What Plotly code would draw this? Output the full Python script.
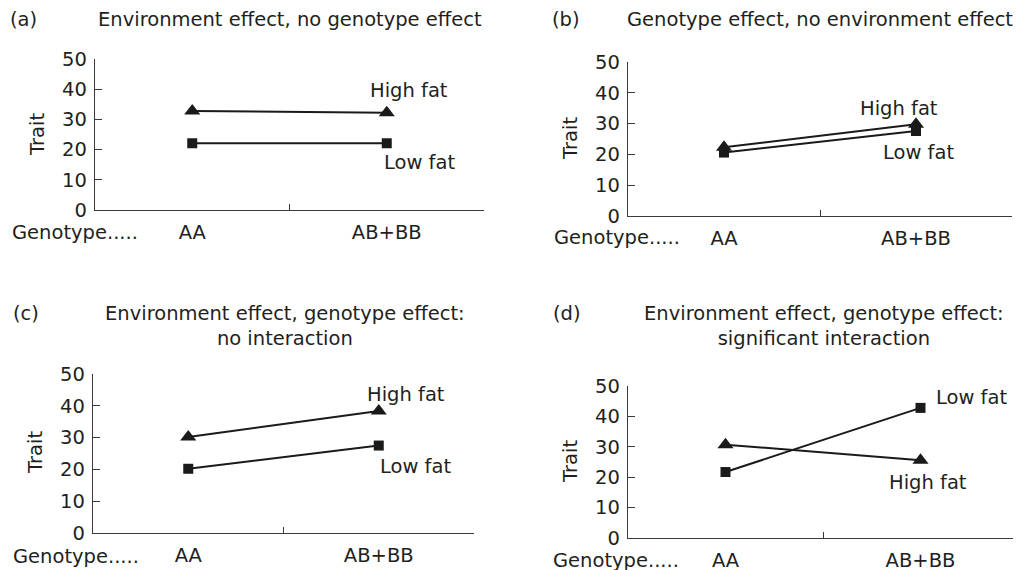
import plotly.graph_objects as go

W, H = 1021, 570
OFF = 8  # page body margin

genotypes = ["AA", "AB+BB"]
a_high = [32.8, 32.2]
a_low = [22.1, 22.1]
b_high = [22.3, 29.8]
b_low = [20.6, 27.6]
c_high = [30.2, 38.4]
c_low = [20.2, 27.5]
d_high = [30.7, 25.6]
d_low = [21.7, 42.8]

y_ticks = [0, 10, 20, 30, 40, 50]

FONT = "DejaVu Sans"
FS = 19.5
TXT = "#231f20"
LINE = "#1a1a1a"
AX = "#3a3a3a"

boxes = {
    "a": (95, 484, 59, 210),
    "b": (628, 1012, 62, 216),
    "c": (93, 474, 374, 533),
    "d": (628, 1018, 386, 538),
}
panel_data = {
    "a": (a_high, a_low),
    "b": (b_high, b_low),
    "c": (c_high, c_low),
    "d": (d_high, d_low),
}


def px(x):
    return (x - OFF) / W


def py(y):
    return 1 - (y - OFF) / H


fig = go.Figure()
layout = {}
for i, key in enumerate(["a", "b", "c", "d"]):
    n = "" if i == 0 else str(i + 1)
    x0, x1, yt, yb = boxes[key]
    hi, lo = panel_data[key]
    xa, ya = "x" + n, "y" + n
    fig.add_trace(go.Scatter(x=genotypes, y=hi, xaxis=xa, yaxis=ya, mode="lines+markers",
                             line=dict(color=LINE, width=2),
                             marker=dict(symbol="triangle-up", size=14, color=LINE),
                             showlegend=False, cliponaxis=False))
    fig.add_trace(go.Scatter(x=genotypes, y=lo, xaxis=xa, yaxis=ya, mode="lines+markers",
                             line=dict(color=LINE, width=2),
                             marker=dict(symbol="square", size=10, color=LINE),
                             showlegend=False, cliponaxis=False))
    layout["xaxis" + n] = dict(
        domain=[px(x0), px(x1)], anchor=ya, type="category", range=[-0.5, 1.5],
        tickson="boundaries", ticks="inside", ticklen=6, tickwidth=1.3, tickcolor=AX,
        showline=True, linecolor=AX, linewidth=1.3, showgrid=False, zeroline=False,
        tickfont=dict(family=FONT, size=FS, color=TXT), ticklabelstandoff=4,
        automargin=False, fixedrange=True,
    )
    layout["yaxis" + n] = dict(
        domain=[py(yb), py(yt)], anchor=xa, range=[0, 50], tickvals=y_ticks,
        ticks="inside", ticklen=7, tickwidth=1.3, tickcolor=AX,
        showline=True, linecolor=AX, linewidth=1.3, showgrid=False, zeroline=False,
        tickfont=dict(family=FONT, size=FS, color=TXT), ticklabelstandoff=3,
        automargin=False, fixedrange=True,
    )

ann = []


def add_text(text, x, y, xanchor="center", angle=0):
    ann.append(dict(text=text, x=px(x), y=py(y), xref="paper", yref="paper",
                    xanchor=xanchor, yanchor="middle", showarrow=False, textangle=angle,
                    font=dict(family=FONT, size=FS, color=TXT)))


add_text("(a)", 8, 20, "left")
add_text("Environment effect, no genotype effect", 290, 20)
add_text("(b)", 550, 20, "left")
add_text("Genotype effect, no environment effect", 820, 20)
add_text("(c)", 11, 313, "left")
add_text("Environment effect, genotype effect:<br>no interaction", 285, 326)
add_text("(d)", 551, 313, "left")
add_text("Environment effect, genotype effect:<br>significant interaction", 824, 326)

add_text("Trait", 37, 135, angle=-90)
add_text("Trait", 570, 139, angle=-90)
add_text("Trait", 35, 453, angle=-90)
add_text("Trait", 570, 462, angle=-90)

add_text("Genotype.....", 10, 232, "left")
add_text("Genotype.....", 552, 237, "left")
add_text("Genotype.....", 11, 556, "left")
add_text("Genotype.....", 551, 560, "left")

add_text("High fat", 368, 90, "left")
add_text("Low fat", 382, 163, "left")
add_text("High fat", 858, 108, "left")
add_text("Low fat", 881, 152, "left")
add_text("High fat", 365, 394, "left")
add_text("Low fat", 378, 466, "left")
add_text("Low fat", 934, 397, "left")
add_text("High fat", 887, 482, "left")

fig.update_layout(
    width=W, height=H, margin=dict(l=0, r=0, t=0, b=0, pad=0, autoexpand=False),
    paper_bgcolor="white", plot_bgcolor="white",
    annotations=ann, **layout,
)

fig.write_html("out.html")
